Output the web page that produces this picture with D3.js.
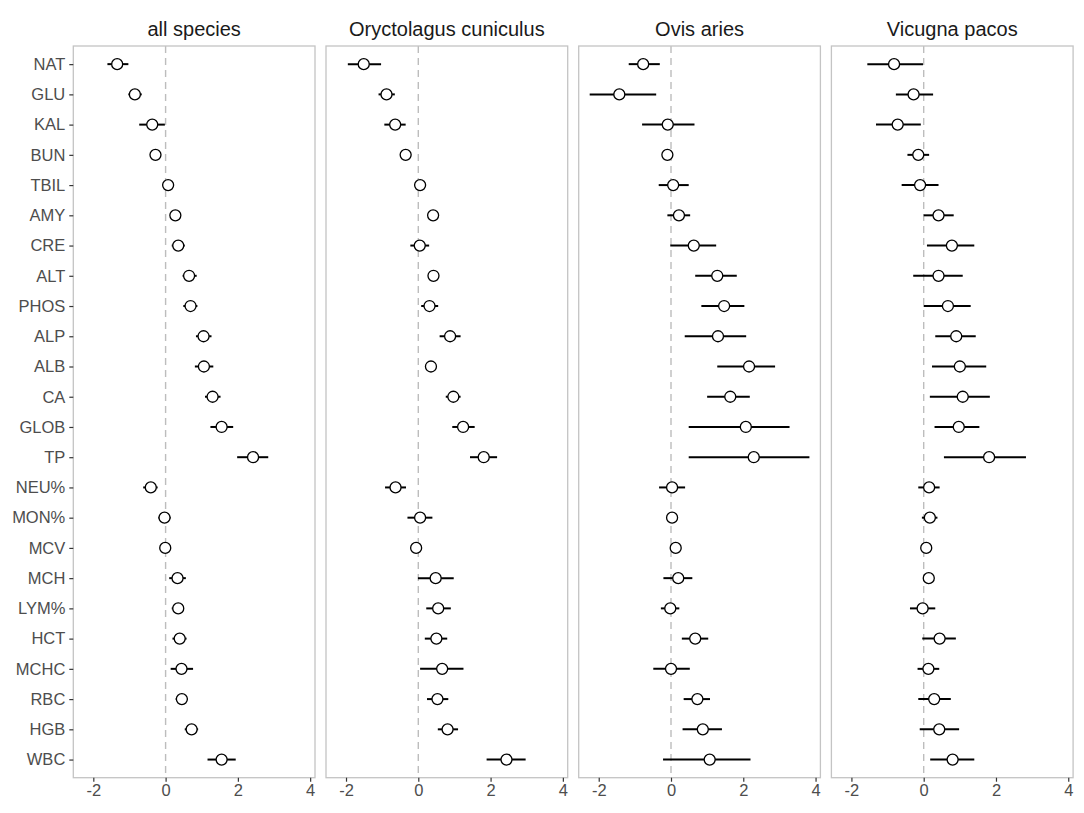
<!DOCTYPE html>
<html>
<head>
<meta charset="utf-8">
<script src="https://cdn.jsdelivr.net/npm/d3@7"></script>
<style>
  body { margin: 0; background: #fff; }
  svg { font-family: "Liberation Sans", Arial, sans-serif; }
</style>
</head>
<body>
<div id="chart"></div>
<script>
// categories, top to bottom
const markers = ["NAT", "GLU", "KAL", "BUN", "TBIL", "AMY", "CRE", "ALT", "PHOS", "ALP", "ALB", "CA",
  "GLOB", "TP", "NEU%", "MON%", "MCV", "MCH", "LYM%", "HCT", "MCHC", "RBC", "HGB", "WBC"];

const species = ["all species", "Oryctolagus cuniculus", "Ovis aries", "Vicugna pacos"];

// all species
const allEst = [-1.34, -0.85, -0.37, -0.28, 0.07, 0.27, 0.35, 0.65, 0.69, 1.05, 1.06, 1.30,
  1.55, 2.42, -0.41, -0.03, -0.01, 0.33, 0.35, 0.39, 0.44, 0.45, 0.72, 1.55];
const allLo = [-1.61, -1.03, -0.73, -0.36, 0.00, 0.20, 0.17, 0.47, 0.49, 0.84, 0.81, 1.09,
  1.24, 1.98, -0.62, -0.20, -0.08, 0.10, 0.17, 0.19, 0.14, 0.28, 0.53, 1.16];
const allHi = [-1.03, -0.66, -0.02, -0.20, 0.14, 0.34, 0.53, 0.86, 0.88, 1.27, 1.32, 1.52,
  1.87, 2.84, -0.22, 0.14, 0.06, 0.56, 0.51, 0.58, 0.76, 0.61, 0.90, 1.94];

// Oryctolagus cuniculus
const rabbitEst = [-1.51, -0.88, -0.64, -0.35, 0.05, 0.41, 0.04, 0.42, 0.31, 0.88, 0.35, 0.97,
  1.24, 1.81, -0.63, 0.05, -0.06, 0.48, 0.55, 0.50, 0.66, 0.53, 0.81, 2.44];
const rabbitLo = [-1.95, -1.10, -0.94, -0.42, -0.02, 0.34, -0.22, 0.35, 0.08, 0.59, 0.28, 0.76,
  0.94, 1.43, -0.92, -0.30, -0.13, -0.01, 0.22, 0.18, 0.05, 0.24, 0.54, 1.89];
const rabbitHi = [-1.03, -0.65, -0.35, -0.28, 0.12, 0.48, 0.30, 0.49, 0.55, 1.17, 0.42, 1.17,
  1.56, 2.18, -0.34, 0.39, 0.01, 0.98, 0.90, 0.80, 1.25, 0.83, 1.10, 2.97];

// Ovis aries
const sheepEst = [-0.77, -1.43, -0.09, -0.10, 0.06, 0.22, 0.63, 1.28, 1.47, 1.30, 2.16, 1.64,
  2.07, 2.29, 0.03, 0.03, 0.13, 0.20, -0.02, 0.67, 0.00, 0.73, 0.88, 1.07];
const sheepLo = [-1.17, -2.25, -0.80, -0.16, -0.34, -0.10, -0.02, 0.67, 0.84, 0.38, 1.28, 1.00,
  0.49, 0.49, -0.33, -0.04, 0.06, -0.21, -0.28, 0.30, -0.49, 0.35, 0.32, -0.22];
const sheepHi = [-0.31, -0.41, 0.65, -0.04, 0.49, 0.53, 1.25, 1.82, 2.03, 2.08, 2.88, 2.18,
  3.28, 3.83, 0.39, 0.10, 0.20, 0.59, 0.23, 1.03, 0.52, 1.08, 1.41, 2.20];

// Vicugna pacos
const alpacaEst = [-0.82, -0.28, -0.72, -0.15, -0.10, 0.41, 0.78, 0.41, 0.67, 0.90, 1.00, 1.08,
  0.97, 1.81, 0.15, 0.17, 0.07, 0.14, -0.03, 0.44, 0.13, 0.29, 0.43, 0.80];
const alpacaLo = [-1.56, -0.77, -1.32, -0.45, -0.61, 0.00, 0.09, -0.29, 0.00, 0.32, 0.23, 0.17,
  0.30, 0.56, -0.15, -0.05, 0.01, -0.02, -0.38, -0.04, -0.17, -0.15, -0.11, 0.18];
const alpacaHi = [-0.02, 0.26, -0.08, 0.15, 0.41, 0.83, 1.40, 1.08, 1.30, 1.44, 1.73, 1.83,
  1.54, 2.83, 0.44, 0.38, 0.13, 0.29, 0.32, 0.89, 0.43, 0.75, 0.98, 1.40];

const xTicks = [-2, 0, 2, 4];

const panels = [
  { name: species[0], est: allEst, lo: allLo, hi: allHi },
  { name: species[1], est: rabbitEst, lo: rabbitLo, hi: rabbitHi },
  { name: species[2], est: sheepEst, lo: sheepLo, hi: sheepHi },
  { name: species[3], est: alpacaEst, lo: alpacaLo, hi: alpacaHi }
];

const width = 1084;
const height = 813;
const panelTop = 46;
const panelBottom = 777.7;
const firstLeft = 73.3;
const panelW = 241.7;
const panelGap = 11;

const svg = d3.select("#chart").append("svg")
    .attr("width", width)
    .attr("height", height);

// shared x scale, ggplot style 5% expansion
const lows = panels.flatMap(p => p.lo);
const highs = panels.flatMap(p => p.hi);
const xmin = d3.min(lows), xmax = d3.max(highs);
const pad = (xmax - xmin) * 0.05;

const y = d3.scalePoint()
    .domain(markers)
    .range([panelTop, panelBottom])
    .padding(0.6);

panels.forEach((p, pi) => {
  const left = firstLeft + pi * (panelW + panelGap);
  const x = d3.scaleLinear()
      .domain([xmin - pad, xmax + pad])
      .range([left, left + panelW]);

  const g = svg.append("g");

  // strip title
  g.append("text")
      .attr("x", left + panelW / 2)
      .attr("y", panelTop - 10.5)
      .attr("text-anchor", "middle")
      .attr("font-size", 20)
      .attr("fill", "#1a1a1a")
      .text(p.name);

  // zero reference
  g.append("line")
      .attr("x1", x(0)).attr("x2", x(0))
      .attr("y1", panelTop).attr("y2", panelBottom)
      .attr("stroke", "#bdbdbd")
      .attr("stroke-width", 1.4)
      .attr("stroke-dasharray", "7,5");

  const rows = markers.map((m, i) => ({ m, est: p.est[i], lo: p.lo[i], hi: p.hi[i] }));

  g.selectAll(".bar")
    .data(rows)
    .join("line")
      .attr("x1", d => x(d.lo))
      .attr("x2", d => x(d.hi))
      .attr("y1", d => y(d.m))
      .attr("y2", d => y(d.m))
      .attr("stroke", "#000")
      .attr("stroke-width", 2);

  g.selectAll(".pt")
    .data(rows)
    .join("circle")
      .attr("cx", d => x(d.est))
      .attr("cy", d => y(d.m))
      .attr("r", 5.5)
      .attr("fill", "#fff")
      .attr("stroke", "#000")
      .attr("stroke-width", 1.3);

  // panel border
  g.append("rect")
      .attr("x", left)
      .attr("y", panelTop)
      .attr("width", panelW)
      .attr("height", panelBottom - panelTop)
      .attr("fill", "none")
      .attr("stroke", "#c4c4c4")
      .attr("stroke-width", 1.3);

  // bottom axis
  const xAxis = g.append("g")
      .attr("transform", `translate(0,${panelBottom})`)
      .call(d3.axisBottom(x).tickValues(xTicks).tickSize(4).tickPadding(3).tickFormat(d3.format("d")));
  xAxis.select(".domain").remove();
  xAxis.selectAll(".tick line").attr("stroke", "#333").attr("stroke-width", 1.2);
  xAxis.selectAll(".tick text")
      .attr("fill", "#4d4d4d")
      .attr("font-size", 16.5)
      .attr("font-family", "Liberation Sans, Arial, sans-serif")
      .text(d => d < 0 ? "-" + Math.abs(d) : d);

  // left axis on the first panel only
  if (pi === 0) {
    const yAxis = g.append("g")
        .attr("transform", `translate(${left},0)`)
        .call(d3.axisLeft(y).tickSize(4).tickPadding(4));
    yAxis.select(".domain").remove();
    yAxis.selectAll(".tick line").attr("stroke", "#333").attr("stroke-width", 1.2);
    yAxis.selectAll(".tick text")
        .attr("fill", "#4d4d4d")
        .attr("font-size", 16.5)
        .attr("font-family", "Liberation Sans, Arial, sans-serif");
  }
});
</script>
</body>
</html>
